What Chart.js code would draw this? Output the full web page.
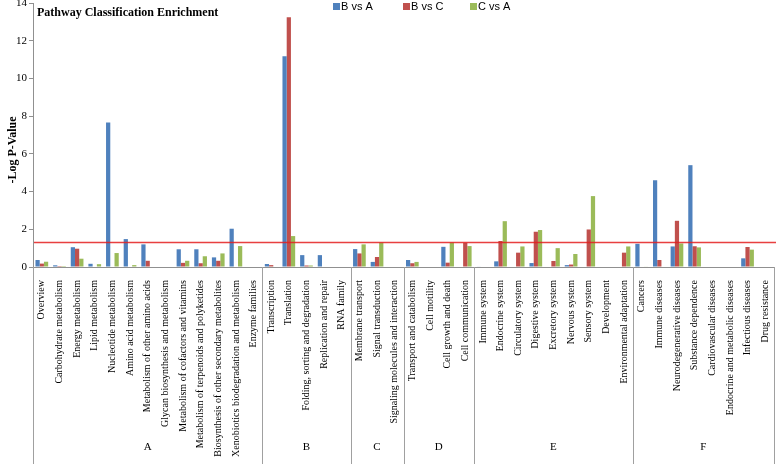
<!DOCTYPE html>
<html>
<head>
<meta charset="utf-8">
<script src="https://cdn.jsdelivr.net/npm/chart.js@4/dist/chart.umd.min.js"></script>
<style>
html,body{margin:0;padding:0;background:#fff;}
#wrap{width:776px;height:464px;}
</style>
</head>
<body>
<div id="wrap"><canvas id="c" width="776" height="464"></canvas></div>
<script>
const categories = [
  "Overview","Carbohydrate metabolism","Energy metabolism","Lipid metabolism","Nucleotide metabolism",
  "Amino acid metabolism","Metabolism of other amino acids","Glycan biosynthesis and metabolism",
  "Metabolism of cofactors and vitamins","Metabolism of terpenoids and polyketides",
  "Biosynthesis of other secondary metabolites","Xenobiotics biodegradation and metabolism","Enzyme families",
  "Transcription","Translation","Folding, sorting and degradation","Replication and repair","RNA family",
  "Membrane transport","Signal transduction","Signaling molecules and interaction",
  "Transport and catabolism","Cell motility","Cell growth and death","Cell communication",
  "Immune system","Endocrine system","Circulatory system","Digestive system","Excretory system",
  "Nervous system","Sensory system","Development","Environmental adaptation",
  "Cancers","Immune diseases","Neurodegenerative diseases","Substance dependence",
  "Cardiovascular diseases","Endocrine and metabolic diseases","Infectious diseases","Drug resistance"
];
const seriesNames = ["B vs A","B vs C","C vs A"];
const bVsA = [0.37,0.09,1.05,0.17,7.66,1.48,1.20,0,0.94,0.94,0.51,2.03,0,
              0.16,11.18,0.63,0.63,0,
              0.95,0.27,0,
              0.37,0,1.07,0,
              0.03,0.30,0,0.21,0,0.10,0,0,0,
              1.23,4.60,1.09,5.40,0,0,0.46,0];
const bVsC = [0.18,0.05,0.97,0,0,0,0.33,0,0.22,0.20,0.33,0,0,
              0.10,13.24,0.08,0,0,
              0.72,0.53,0,
              0.20,0,0.23,1.28,
              0,1.38,0.76,1.87,0.32,0.13,1.99,0,0.76,
              0,0.37,2.45,1.10,0,0,1.06,0];
const cVsA = [0.28,0.05,0.44,0.15,0.74,0.10,0,0,0.33,0.57,0.72,1.11,0,
              0,1.64,0.08,0,0,
              1.20,1.30,0,
              0.27,0,1.30,1.11,
              0,2.43,1.09,1.96,1.00,0.69,3.76,0,1.09,
              0.03,0,1.25,1.04,0,0,0.92,0];
const groupNames = ["A","B","C","D","E","F"];
const groupSizes = [13,5,3,4,9,8];
const yTicks = [0,2,4,6,8,10,12,14];
const threshold = 1.3;
const chartTitle = "Pathway Classification Enrichment";
const yTitle = "-Log P-Value";

const colors = ["#4F81BD","#C0504D","#9BBB59"];
const serif = "'Liberation Serif','Times New Roman',serif";
const sans = "'Liberation Sans',Arial,sans-serif";

const extras = {
  id: 'extras',
  afterDatasetsDraw(chart) {
    const ctx = chart.ctx, ca = chart.chartArea;
    const y = chart.scales.y;
    const ty = y.getPixelForValue(threshold);
    ctx.save();
    ctx.strokeStyle = 'rgba(228,30,30,0.85)';
    ctx.lineWidth = 1.5;
    ctx.beginPath(); ctx.moveTo(ca.left + 1, ty); ctx.lineTo(ca.right + 2, ty); ctx.stroke();
    ctx.restore();
  },
  afterDraw(chart) {
    const ctx = chart.ctx, ca = chart.chartArea;
    const x = chart.scales.x;
    const H = chart.height;
    ctx.save();
    const n = categories.length;
    const edge = i => i === 0 ? ca.left : (i >= n ? ca.right : (x.getPixelForValue(i - 1) + x.getPixelForValue(i)) / 2);
    ctx.strokeStyle = '#a0a0a0';
    ctx.lineWidth = 1;
    let start = 0;
    const bounds = [0];
    groupSizes.forEach(s => { start += s; bounds.push(start); });
    bounds.forEach(b => {
      const px = Math.round(edge(b)) + 0.5;
      ctx.beginPath(); ctx.moveTo(px, ca.bottom); ctx.lineTo(px, H); ctx.stroke();
    });
    ctx.fillStyle = '#000';
    ctx.font = "11px " + serif;
    ctx.textAlign = 'center'; ctx.textBaseline = 'middle';
    for (let g = 0; g < groupNames.length; g++) {
      const cx = (edge(bounds[g]) + edge(bounds[g + 1])) / 2;
      ctx.fillText(groupNames[g], cx, 447);
    }
    ctx.save();
    ctx.translate(13, 150);
    ctx.rotate(-Math.PI / 2);
    ctx.font = "bold 12px " + serif;
    ctx.fillText(yTitle, 0, 0);
    ctx.restore();
    ctx.font = "bold 12px " + serif;
    ctx.textAlign = 'left';
    ctx.fillText(chartTitle, ca.left + 4, 13);
    ctx.font = "11px " + sans;
    const lx = [333, 403, 470];
    seriesNames.forEach((nm, i) => {
      ctx.fillStyle = colors[i];
      ctx.fillRect(lx[i], 3, 7, 7);
      ctx.fillStyle = '#000';
      ctx.fillText(nm, lx[i] + 8, 7);
    });
    ctx.restore();
  }
};

new Chart(document.getElementById('c'), {
  type: 'bar',
  data: {
    labels: categories,
    datasets: [
      { label: seriesNames[0], data: bVsA, backgroundColor: colors[0] },
      { label: seriesNames[1], data: bVsC, backgroundColor: colors[1] },
      { label: seriesNames[2], data: cVsA, backgroundColor: colors[2] }
    ]
  },
  options: {
    responsive: false,
    devicePixelRatio: 1,
    animation: false,
    layout: { padding: { top: 3, right: 2, left: 0, bottom: 0 } },
    datasets: { bar: { categoryPercentage: 0.72, barPercentage: 1.0 } },
    plugins: { legend: { display: false }, tooltip: { enabled: false }, title: { display: false } },
    scales: {
      x: {
        grid: { display: false },
        border: { display: true, color: '#909090' },
        ticks: {
          autoSkip: false, minRotation: 90, maxRotation: 90, padding: 5,
          color: '#000', font: { family: serif, size: 10 }
        },
        afterFit(s) { s.height = 197; s.paddingLeft = 0; s.paddingRight = 0; }
      },
      y: {
        min: 0, max: 14,
        afterBuildTicks(s) { s.ticks = yTicks.map(v => ({ value: v })); },
        grid: { drawOnChartArea: false, tickLength: 4, color: '#909090' },
        border: { display: true, color: '#909090' },
        ticks: { color: '#000', font: { family: serif, size: 11 }, padding: 2 },
        title: { display: false },
        afterFit(s) { s.width = 33; s.paddingTop = 0; s.paddingBottom = 0; }
      }
    }
  },
  plugins: [extras]
});
</script>
</body>
</html>
